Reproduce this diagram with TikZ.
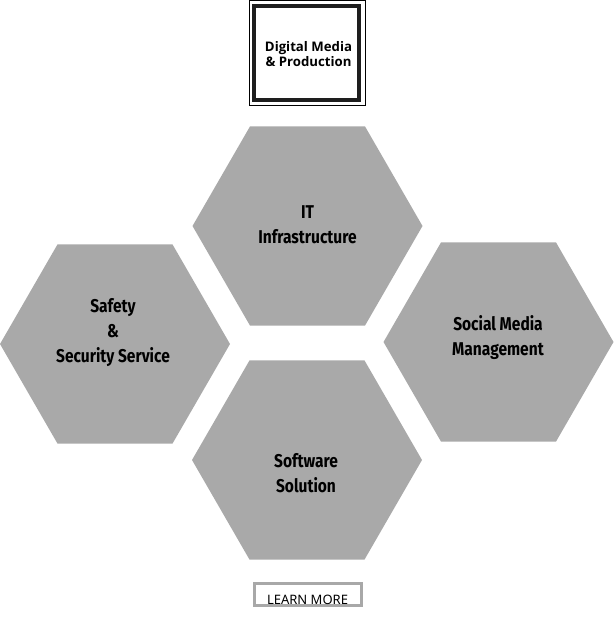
\documentclass[tikz,border=0pt]{standalone}
\usepackage{fontspec}
\setmainfont{Open Sans}
\newfontfamily\hexfont[FakeStretch=0.84]{Fira Sans}
\newfontfamily\btnfont{Noto Sans}
\definecolor{hexgray}{HTML}{A9A9A9}
\definecolor{framedark}{HTML}{1E1E1E}
\definecolor{btngray}{HTML}{A8A8A8}
\tikzset{
  hexfill/.style={fill=hexgray},
  hexlabel/.style={font=\hexfont\bfseries\fontsize{18.5}{25}\selectfont, align=center, text=black, inner sep=0pt},
  titlelabel/.style={font=\bfseries\fontsize{13.2}{15}\selectfont, align=center, inner sep=0pt},
  btnlabel/.style={font=\btnfont\fontsize{13}{15}\selectfont, inner sep=0pt}
}
\newcommand{\hexat}[2]{%
  \fill[hexfill] (#1+115,#2) -- (#1+57.5,#2+99.6) -- (#1-57.5,#2+99.6) -- (#1-115,#2) -- (#1-57.5,#2-99.6) -- (#1+57.5,#2-99.6) -- cycle;}
\begin{document}
\begin{tikzpicture}[x=1pt,y=-1pt]
\useasboundingbox (0,0) rectangle (614,617);
% title box
\draw[black, line width=1pt] (249.5,0.5) rectangle (365.5,105.5);
\draw[framedark, line width=4pt] (254,6) rectangle (359,100);
\node[titlelabel] (title) at (308.5,54.5) {Digital Media\\ \& Production};
% hexagons
\hexat{307.5}{226}
\hexat{115}{344}
\hexat{498.5}{342}
\hexat{307}{460}
\node[hexlabel] (it) at (307.5,225) {IT\\Infrastructure};
\node[hexlabel] (safety) at (113,333) {Safety\\\&\\Security Service};
\node[hexlabel] (social) at (498,338) {Social Media\\Management};
\node[hexlabel] (software) at (306,473) {Software\\Solution};
% button
\draw[btngray, line width=3pt] (254.5,583.5) rectangle (361.5,605.5);
\node[btnlabel] (learn) at (307.5,599.5) {LEARN MORE};
\end{tikzpicture}
\end{document}
